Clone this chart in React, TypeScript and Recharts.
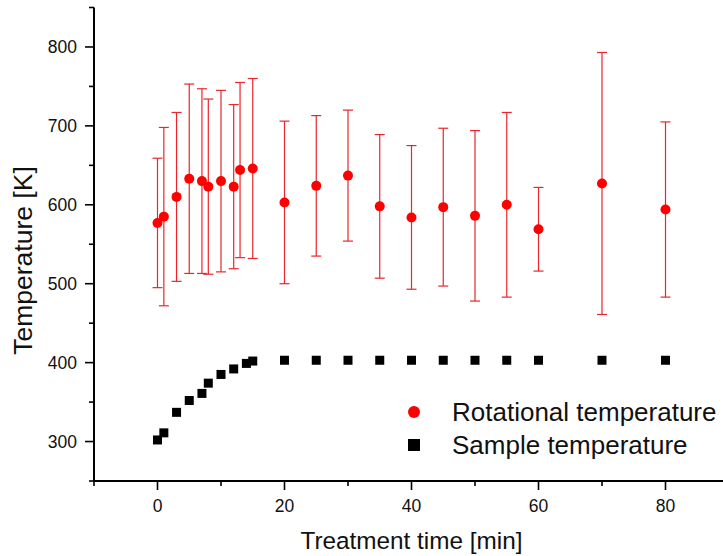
import React from 'react';
import { ScatterChart, Scatter, XAxis, YAxis, ErrorBar, Legend } from 'recharts';

// ---- data ----
const rotTimes = [0, 1, 3, 5, 7, 8, 10, 12, 13, 15, 20, 25, 30, 35, 40, 45, 50, 55, 60, 70, 80];
const rotTemps = [577, 585, 610, 633, 630, 623, 630, 623, 644, 646, 603, 624, 637, 598, 584, 597, 586, 600, 569, 627, 594];
const rotErrors = [82, 113, 107, 120, 117, 111, 115, 104, 111, 114, 103, 89, 83, 91, 91, 100, 108, 117, 53, 166, 111];

const sampleTimes = [0, 1, 3, 5, 7, 8, 10, 12, 14, 15, 20, 25, 30, 35, 40, 45, 50, 55, 60, 70, 80];
const sampleTemps = [302, 311, 337, 352, 361, 374, 385, 392, 399, 402, 403, 403, 403, 403, 403, 403, 403, 403, 403, 403, 403];

const xTicks = [-10, 0, 10, 20, 30, 40, 50, 60, 70, 80, 90];
const xLabeled = [0, 20, 40, 60, 80];
const yTicks = [250, 300, 350, 400, 450, 500, 550, 600, 650, 700, 750, 800, 850];
const yLabeled = [300, 400, 500, 600, 700, 800];

const seriesNames = ['Rotational temperature', 'Sample temperature'];
const xTitle = 'Treatment time [min]';
const yTitle = 'Temperature [K]';

const rotData = rotTimes.map((t, i) => ({ x: t, y: rotTemps[i], err: rotErrors[i] }));
const sampleData = sampleTimes.map((t, i) => ({ x: t, y: sampleTemps[i] }));

const FONT = '"Liberation Sans", Arial, sans-serif';
const RED = '#ff0000';
const ERR = '#e8262b';
const BLACK = '#000000';

const XTick = (props: any) => {
  const { x, y, payload } = props;
  const major = xLabeled.includes(payload.value);
  return (
    <g>
      <line x1={x} y1={y} x2={x} y2={y + (major ? 9 : 5)} stroke="#000" strokeWidth={1.6} />
      {major && (
        <text x={x} y={y + 30.7} textAnchor="middle" fontSize={17.5} fontFamily={FONT} fill="#111">
          {payload.value}
        </text>
      )}
    </g>
  );
};

const YTick = (props: any) => {
  const { x, y, payload } = props;
  const major = yLabeled.includes(payload.value);
  return (
    <g>
      <line x1={x - (major ? 9 : 5)} y1={y} x2={x} y2={y} stroke="#000" strokeWidth={1.6} />
      {major && (
        <text x={x - 17} y={y + 6.3} textAnchor="end" fontSize={17.5} fontFamily={FONT} fill="#111">
          {payload.value}
        </text>
      )}
    </g>
  );
};

const CircleShape = (props: any) => {
  const { cx, cy } = props;
  if (cx == null || cy == null) return null;
  return <circle cx={cx} cy={cy} r={5} fill={RED} />;
};

const SquareShape = (props: any) => {
  const { cx, cy } = props;
  if (cx == null || cy == null) return null;
  return <rect x={cx - 4.5} y={cy - 4.5} width={9} height={9} fill={BLACK} />;
};

const renderLegend = () => (
  <svg width={330} height={70} style={{ overflow: 'visible', display: 'block' }}>
    <circle cx={14} cy={16} r={6} fill={RED} />
    <text x={52} y={25} fontSize={26} fontFamily={FONT} fill="#111">
      {seriesNames[0]}
    </text>
    <rect x={8} y={43} width={12} height={12} fill={BLACK} />
    <text x={52} y={58} fontSize={26} fontFamily={FONT} fill="#111">
      {seriesNames[1]}
    </text>
  </svg>
);

const XLabel = (props: any) => {
  const vb = props.viewBox || {};
  const cx = (vb.x ?? 94) + (vb.width ?? 635) / 2;
  const baseY = (vb.y ?? 481) + 68;
  return (
    <text x={cx} y={baseY} textAnchor="middle" fontSize={24.3} fontFamily={FONT} fill="#111">
      {xTitle}
    </text>
  );
};

const YLabel = (props: any) => {
  const vb = props.viewBox || {};
  const cy = (vb.y ?? 7.5) + 253;
  const bx = 32;
  return (
    <text
      x={bx}
      y={cy}
      transform={`rotate(-90 ${bx} ${cy})`}
      textAnchor="middle"
      fontSize={26.5}
      fontFamily={FONT}
      fill="#111"
    >
      {yTitle}
    </text>
  );
};

export default function App() {
  return (
    <div
      style={{
        position: 'fixed',
        left: 0,
        top: 0,
        width: 723,
        height: 556,
        overflow: 'hidden',
        background: '#fff',
      }}
    >
      <ScatterChart width={760} height={556} margin={{ top: 7.5, right: 31, bottom: 0, left: 0 }}>
        <XAxis
          type="number"
          dataKey="x"
          domain={[-10, 90]}
          ticks={xTicks}
          interval={0}
          allowDataOverflow
          height={75}
          tickSize={0}
          tickMargin={0}
          tickLine={false}
          axisLine={{ stroke: '#000', strokeWidth: 2 }}
          tick={<XTick />}
          label={<XLabel />}
        />
        <YAxis
          type="number"
          dataKey="y"
          domain={[250, 850]}
          ticks={yTicks}
          interval={0}
          allowDataOverflow
          width={94}
          tickSize={0}
          tickMargin={0}
          tickLine={false}
          axisLine={{ stroke: '#000', strokeWidth: 2 }}
          tick={<YTick />}
          label={<YLabel />}
        />
        <Scatter
          name={seriesNames[0]}
          data={rotData}
          fill={RED}
          shape={<CircleShape />}
          isAnimationActive={false}
        >
          <ErrorBar dataKey="err" direction="y" width={5} stroke={ERR} strokeWidth={1.2} isAnimationActive={false} />
        </Scatter>
        <Scatter
          name={seriesNames[1]}
          data={sampleData}
          fill={BLACK}
          shape={<SquareShape />}
          isAnimationActive={false}
        />
        <Legend
          layout="vertical"
          align="center"
          verticalAlign="middle"
          content={renderLegend}
          wrapperStyle={{ position: 'absolute', left: 400, top: 396, width: 330, height: 70 }}
        />
      </ScatterChart>
    </div>
  );
}
